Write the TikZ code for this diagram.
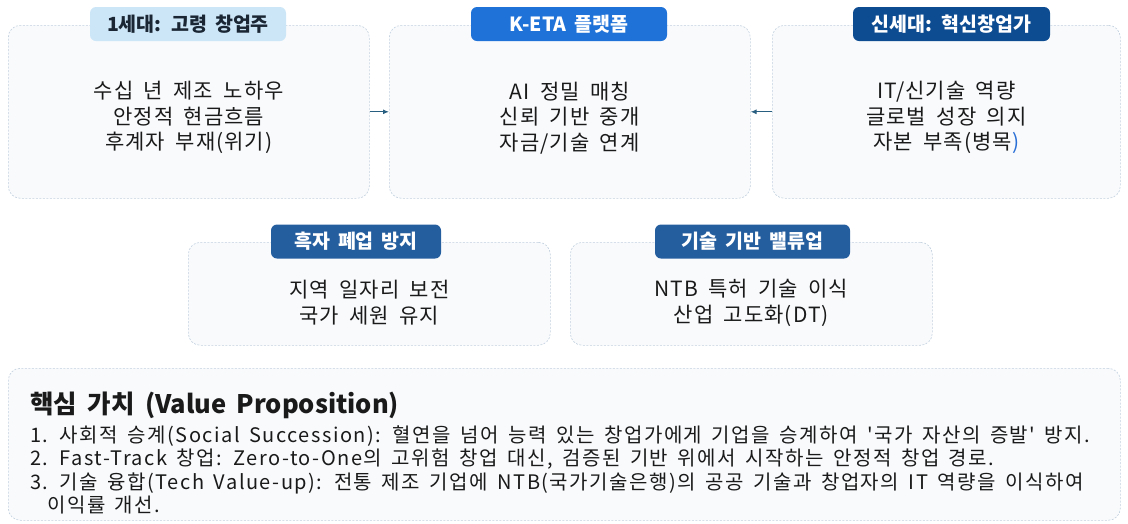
\documentclass[tikz,border=0pt]{standalone}
\usepackage{fontspec}
\setmainfont[WordSpace=1.8]{Noto Sans CJK KR}
\newfontfamily\bodyfont[WordSpace=1.8,LetterSpace=5]{Noto Sans CJK KR}
\newfontfamily\listfont[WordSpace=1.6,LetterSpace=7.5]{Noto Sans CJK KR}
\usetikzlibrary{arrows.meta}
\definecolor{panelfill}{HTML}{F8FAFC}
\definecolor{panelline}{HTML}{C3D1DF}
\definecolor{tagA}{HTML}{CDE6F7}
\definecolor{tagAt}{HTML}{1A2633}
\definecolor{tagB}{HTML}{1F72D8}
\definecolor{tagC}{HTML}{0E4C92}
\definecolor{tagD}{HTML}{255E9F}
\definecolor{arrowc}{HTML}{285E80}
\definecolor{bodyc}{HTML}{1A1A1A}
\definecolor{parenblue}{HTML}{2A6FD6}
\tikzset{
  panel/.style={draw=panelline, dash pattern=on 2pt off 1.5pt, fill=panelfill,
    rounded corners=12pt, line width=0.6pt, anchor=north west, inner sep=0pt},
  tag/.style={rounded corners=6pt, font=\fontsize{19.5}{22}\selectfont\bfseries,
    inner sep=0pt, minimum height=34pt},
  body/.style={align=center, text=bodyc, font=\bodyfont\fontsize{21}{25.5}\selectfont},
  vline/.style={anchor=base west, inner sep=0pt, text=bodyc, font=\listfont\fontsize{20}{22}\selectfont},
  link/.style={-{Latex[length=6pt,width=5pt]}, draw=arrowc, line width=1.1pt}
}
\begin{document}
\begin{tikzpicture}[x=1pt,y=-1pt]
\useasboundingbox (0,0) rectangle (1128,523);
% top row panels
\node[panel, minimum width=361pt, minimum height=173pt] (p1) at (8,25) {};
\node[panel, minimum width=361pt, minimum height=173pt] (p2) at (389,25) {};
\node[panel, minimum width=348pt, minimum height=173pt] (p3) at (772,25) {};
% second row panels
\node[panel, minimum width=362pt, minimum height=103pt] (p4) at (188,242) {};
\node[panel, minimum width=362pt, minimum height=103pt] (p5) at (570,242) {};
% bottom panel
\node[panel, minimum width=1112pt, minimum height=152pt] (p6) at (8,368) {};
% tags
\node[tag, fill=tagA, text=tagAt, minimum width=196pt] (g1) at (188,24) {1세대: 고령 창업주};
\node[tag, fill=tagB, text=white, minimum width=196pt] (g2) at (569,24) {K-ETA 플랫폼};
\node[tag, fill=tagC, text=white, minimum width=197pt] (g3) at (951.5,24) {신세대: 혁신창업가};
\node[tag, fill=tagD, text=white, minimum width=170pt] (g4) at (356,241.5) {흑자 폐업 방지};
\node[tag, fill=tagD, text=white, minimum width=195pt] (g5) at (752.5,241.5) {기술 기반 밸류업};
% body texts
\node[body] (t1) at ([yshift=-6pt]p1.center) {수십 년 제조 노하우\\안정적 현금흐름\\후계자 부재(위기)};
\node[body] (t2) at ([yshift=-6pt]p2.center) {AI 정밀 매칭\\신뢰 기반 중개\\자금/기술 연계};
\node[body] (t3) at ([yshift=-6pt]p3.center) {IT/신기술 역량\\글로벌 성장 의지\\자본 부족(병목\textcolor{parenblue}{)}};
\node[body] (t4) at ([yshift=-9pt]p4.center) {지역 일자리 보전\\국가 세원 유지};
\node[body] (t5) at ([yshift=-9pt]p5.center) {NTB 특허 기술 이식\\산업 고도화(DT)};
% connectors
\draw[link] (p1.east) -- (p2.west);
\draw[link] (p3.west) -- (p2.east);
% value proposition
\node[anchor=base west, inner sep=0pt, text=bodyc, font=\fontsize{25.5}{28}\selectfont\bfseries] (vt) at (30,413) {핵심 가치 (Value Proposition)};
\node[vline] (v1) at (30,442) {1. 사회적 승계(Social Succession): 혈연을 넘어 능력 있는 창업가에게 기업을 승계하여 '국가 자산의 증발' 방지.};
\node[vline] (v2) at (30,465.5) {2. Fast-Track 창업: Zero-to-One의 고위험 창업 대신, 검증된 기반 위에서 시작하는 안정적 창업 경로.};
\node[vline] (v3) at (30,489) {3. 기술 융합(Tech Value-up): 전통 제조 기업에 NTB(국가기술은행)의 공공 기술과 창업자의 IT 역량을 이식하여};
\node[vline] (v4) at (47,512.5) {이익률 개선.};
\end{tikzpicture}
\end{document}
